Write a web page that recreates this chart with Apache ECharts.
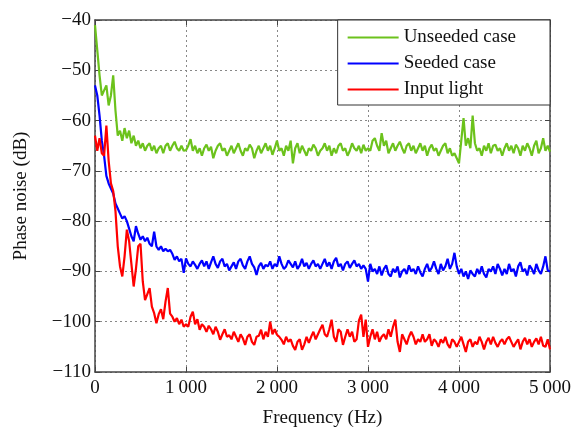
<!DOCTYPE html>
<html>
<head>
<meta charset="utf-8">
<script src="https://cdn.jsdelivr.net/npm/echarts@6/dist/echarts.min.js"></script>
<style>
html,body{margin:0;padding:0;background:#fff;}
#chart{width:576px;height:428px;}
</style>
</head>
<body>
<div id="chart"></div>
<script>
const seriesNames = ['Unseeded case', 'Seeded case', 'Input light'];
const xTickLabels = ['0', '1\u2009000', '2\u2009000', '3\u2009000', '4\u2009000', '5\u2009000'];
const yTickLabels = ['\u2212110', '\u2212100', '\u221290', '\u221280', '\u221270', '\u221260', '\u221250', '\u221240'];

const freq = [
0,25,50,75,100,125,150,175,200,225,250,275,300,325,350,375,400,425,450,475,
500,525,550,575,600,625,650,675,700,725,750,775,800,825,850,875,900,925,950,975,
1000,1025,1050,1075,1100,1125,1150,1175,1200,1225,1250,1275,1300,1325,1350,1375,1400,1425,1450,1475,
1500,1525,1550,1575,1600,1625,1650,1675,1700,1725,1750,1775,1800,1825,1850,1875,1900,1925,1950,1975,
2000,2025,2050,2075,2100,2125,2150,2175,2200,2225,2250,2275,2300,2325,2350,2375,2400,2425,2450,2475,
2500,2525,2550,2575,2600,2625,2650,2675,2700,2725,2750,2775,2800,2825,2850,2875,2900,2925,2950,2975,
3000,3025,3050,3075,3100,3125,3150,3175,3200,3225,3250,3275,3300,3325,3350,3375,3400,3425,3450,3475,
3500,3525,3550,3575,3600,3625,3650,3675,3700,3725,3750,3775,3800,3825,3850,3875,3900,3925,3950,3975,
4000,4025,4050,4075,4100,4125,4150,4175,4200,4225,4250,4275,4300,4325,4350,4375,4400,4425,4450,4475,
4500,4525,4550,4575,4600,4625,4650,4675,4700,4725,4750,4775,4800,4825,4850,4875,4900,4925,4950,4975,5000
];

const unseeded = [
-41,-46,-51,-55,-54,-53,-57,-55,-51,-58,-63,-62,-64,-61.5,-63.5,-62,-64.5,-63,-65,-64,
-65.5,-64.5,-66,-65,-64.5,-66,-65,-66.5,-65.5,-65,-66.5,-65,-64.5,-66,-65,-64.2,-65.5,-66,-65,-66,
-65.9,-65,-63.7,-66,-65,-66.5,-65.5,-67,-65.5,-64.8,-66,-65.2,-67.5,-66,-65,-64.5,-66,-65.5,-67,-66,
-65,-66.5,-65.5,-64.5,-66,-67,-65.5,-66,-64.8,-65.5,-67.5,-66,-65,-66.5,-65.5,-64.5,-66,-65,-66.8,-65.5,
-64,-66,-65.5,-67,-65,-66,-64,-68.5,-65.5,-64.5,-66.5,-65,-66,-67,-65.5,-66,-64.8,-65.5,-67,-66,
-65.5,-64.5,-66,-65,-67,-65.5,-66.5,-65,-64.5,-66,-65.5,-67,-66,-64.5,-65.5,-66,-65,-66.5,-64.8,-66,
-65.5,-66,-64,-63.5,-65,-66,-62.5,-65,-64,-66.5,-65.5,-64.5,-66,-65,-64.2,-65.5,-66.5,-65,-64.5,-66,
-65,-66.5,-65.5,-64.5,-66,-65,-67,-65.5,-64.8,-66,-65.5,-67,-66,-65,-64.5,-66.5,-65.5,-67,-66.5,-67.5,
-68.5,-64,-59.5,-65,-63.5,-65.5,-59,-64.5,-66,-65.5,-67,-65,-66,-64.5,-66.5,-65,-64.8,-66,-65.5,-67,
-65.5,-64.5,-66,-65,-66.5,-64.8,-65.5,-67,-65,-66,-64.5,-65.5,-67,-65,-64,-66.5,-65.5,-63.5,-66,-65,-66.2
];

const seeded = [
-53,-55,-59,-64,-67,-71,-72.5,-73.5,-74.5,-76.5,-77.5,-78.5,-79.5,-79,-80,-81.5,-83,-84,-81,-82.5,
-83.7,-83,-84,-83.3,-84.5,-85,-82.1,-85,-85.7,-85,-86,-85.5,-86,-85.7,-86.5,-87.7,-87,-88,-87.5,-90.3,
-87.4,-88.5,-89,-88,-88.7,-89.5,-88.5,-87.8,-89,-88,-89.5,-88.2,-87,-88.5,-89.3,-88,-87.5,-89,-88.5,-89.8,
-89,-88.2,-89.5,-88,-87.5,-88.8,-89.5,-88,-87,-88.5,-89.2,-90.7,-89,-88.3,-89.5,-88.7,-89,-88,-89.5,-88.5,
-89,-87,-88.5,-89.5,-89,-87.8,-88.5,-89.2,-88,-89.5,-88.8,-87.5,-89,-88.3,-89.5,-88.5,-87.8,-89,-88.5,-89.5,
-88.5,-87.5,-89,-88.2,-89.5,-88,-87.3,-89,-88.5,-89.8,-88.5,-88,-89.3,-88.5,-87.8,-89,-88.5,-89.5,-88.8,-89.5,
-92,-88.5,-90,-89.5,-90.5,-89,-90.8,-89.5,-88.8,-90.5,-91,-89.5,-90.2,-89,-91.2,-90,-89.5,-90.5,-88.8,-90,
-89.5,-90.5,-89,-90.2,-91,-89.5,-88.5,-90,-89.3,-88,-89.5,-90.5,-88.5,-89.8,-89,-87.5,-89.5,-88.5,-86.3,-89,
-90.5,-89.5,-91,-90,-91.5,-89.8,-90.5,-91,-89.5,-90.5,-89,-90.5,-91.2,-89.5,-90,-89,-90.5,-88.5,-89.5,-90.8,
-89.5,-90.5,-88.5,-90,-89.5,-91,-89,-88.2,-90,-89.5,-90.8,-88.8,-89.5,-90.5,-88.5,-89.8,-90.5,-89,-87,-89.8,-90
];

const inputLight = [
-63,-66,-63.5,-66.5,-67,-61,-68,-72.5,-74,-78,-85,-89,-91,-87,-81.7,-84,-88.5,-93,-89.5,-85,
-84.5,-92,-95.7,-94.5,-93.3,-97,-98.3,-100.3,-98.5,-97.5,-99.5,-96,-93.3,-98.4,-99,-100,-99.3,-100.5,-99.6,-101,
-100.5,-101,-99,-98,-100.5,-99.5,-101.6,-100.5,-101,-102,-100.8,-101.5,-102.5,-101,-102,-103.6,-102.5,-101.5,-103,-102.7,
-103.5,-102,-103,-104,-102.5,-103.3,-104.6,-103,-102.5,-104,-104.6,-103,-102.8,-101.6,-103.5,-102,-103,-100,-102.5,-101.5,
-102.6,-103,-103.6,-104.5,-103,-104,-103.5,-104.8,-105.6,-104,-103.5,-105.6,-104.5,-103,-104.2,-103,-102,-103.5,-102.5,-101.5,
-100.6,-102.5,-103,-101.5,-99.6,-103,-104,-101.5,-102,-104.6,-103,-101.5,-103,-102,-104,-103.5,-99.8,-98.6,-103,-99.6,
-105,-103,-101.5,-103.5,-102,-104,-103,-102.5,-103.5,-101.5,-103,-101,-99.6,-104,-106,-102.5,-103.5,-104.5,-103,-102,
-103,-104.5,-103.5,-104,-102.5,-104,-103.5,-102.5,-104.8,-103.5,-104,-105,-103.5,-104.2,-103,-104.5,-105.2,-103.5,-104,-105,
-104,-103,-104.5,-106,-104,-103.5,-105,-104,-104.5,-103,-104,-105.5,-104,-103.2,-104.5,-103,-104.2,-105,-104,-103.5,
-104.5,-103.5,-103,-104,-105,-104.2,-103.5,-105.5,-104,-103.2,-104.5,-103.5,-105,-104,-103.3,-104.5,-103,-104.8,-105,-103.5,-105.5
];

const colors = ['#6cc21c', '#0000ff', '#ff0000'];
const allValues = [unseeded, seeded, inputLight];

const FONT = '"Liberation Serif", "DejaVu Serif", serif';
const FS = 19;
const frameLine = { show: true, onZero: false, lineStyle: { color: '#444', width: 1.5 } };
const gridLine = { show: true, lineStyle: { type: [2, 3], color: '#888', width: 1 } };
const tick = { show: true, inside: true, length: 5, lineStyle: { color: '#444' } };

const chart = echarts.init(document.getElementById('chart'), null, { renderer: 'canvas' });
chart.setOption({
  animation: false,
  backgroundColor: '#fff',
  grid: { left: 95, right: 26, top: 20, bottom: 56, containLabel: false, outerBoundsMode: 'none' },
  legend: {
    data: seriesNames,
    orient: 'vertical',
    right: 26, top: 20,
    backgroundColor: '#fff',
    borderColor: '#333', borderWidth: 1, borderRadius: 0,
    padding: [8, 34, 6, 10],
    itemGap: 7,
    itemWidth: 51, itemHeight: 2,
    icon: 'rect',
    selectedMode: false,
    textStyle: { fontFamily: FONT, fontSize: FS, color: '#111', lineHeight: 19 }
  },
  xAxis: [{
    type: 'value', min: 0, max: 5000, interval: 1000, position: 'bottom',
    axisLine: frameLine,
    axisTick: tick,
    splitLine: gridLine,
    axisLabel: { margin: 7, fontFamily: FONT, fontSize: FS, color: '#111',
      formatter: v => xTickLabels[Math.round(v / 1000)] },
    name: 'Frequency (Hz)', nameLocation: 'middle', nameGap: 37,
    nameTextStyle: { fontFamily: FONT, fontSize: FS, color: '#111' }
  }, {
    type: 'value', min: 0, max: 5000, interval: 1000, position: 'top',
    axisLine: frameLine,
    axisTick: tick,
    splitLine: { show: false }, axisLabel: { show: false }
  }],
  yAxis: [{
    type: 'value', min: -110, max: -40, interval: 10, position: 'left',
    axisLine: frameLine,
    axisTick: tick,
    splitLine: gridLine,
    axisLabel: { margin: 4, fontFamily: FONT, fontSize: FS, color: '#111',
      formatter: v => yTickLabels[Math.round((v + 110) / 10)] },
    name: 'Phase noise (dB)', nameLocation: 'middle', nameGap: 64, nameRotate: 90,
    nameTextStyle: { fontFamily: FONT, fontSize: FS, color: '#111' }
  }, {
    type: 'value', min: -110, max: -40, interval: 10, position: 'right',
    axisLine: frameLine,
    axisTick: tick,
    splitLine: { show: false }, axisLabel: { show: false }
  }],
  series: seriesNames.map((name, k) => ({
    name: name,
    type: 'line',
    xAxisIndex: 0, yAxisIndex: 0,
    showSymbol: false, symbol: 'none',
    color: colors[k],
    lineStyle: { color: colors[k], width: 2.2 },
    data: freq.map((f, i) => [f, allValues[k][i]]),
    z: 3
  }))
});
</script>
</body>
</html>
